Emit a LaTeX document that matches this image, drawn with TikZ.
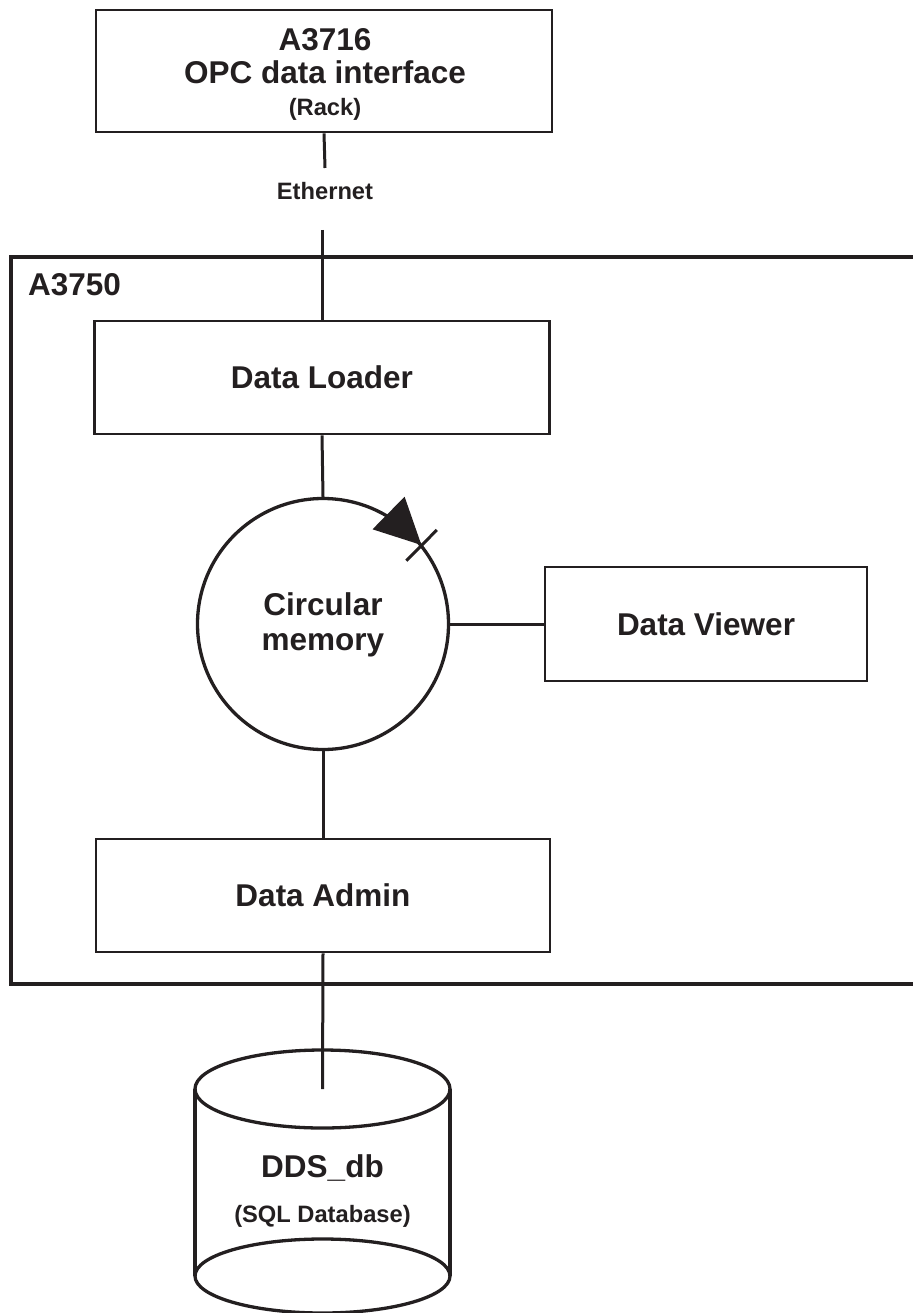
\documentclass[tikz,border=0pt]{standalone}
\usepackage{fontspec}
\setmainfont{Liberation Sans}
\usetikzlibrary{calc}
\definecolor{ink}{RGB}{35,31,32}
\newcommand\bigtxt{\fontsize{31.5}{35}\selectfont\bfseries}
\newcommand\smalltxt{\fontsize{23.7}{27}\selectfont\bfseries}
\begin{document}
\begin{tikzpicture}[x=1pt,y=-1pt,
  box/.style={draw=ink, line width=2.7pt, rectangle, inner sep=0pt, font=\bigtxt, text=ink},
  memstyle/.style={draw=ink, line width=3.3pt, circle, inner sep=0pt, minimum size=251pt},
  link/.style={draw=ink, line width=3pt},
  frame/.style={draw=ink, line width=4pt},
  cyl/.style={draw=ink, line width=3.3pt},
  bigl/.style={font=\bigtxt, text=ink, anchor=base, inner sep=0pt},
  smalll/.style={font=\smalltxt, text=ink, anchor=base, inner sep=0pt}]
\useasboundingbox (0,0) rectangle (912,1313);

% outer A3750 frame
\draw[frame] (930,257) -- (11,257) -- (11,984) -- (930,984);
\node[bigl, anchor=base west] (a3750) at (28,295) {A3750};

% top box
\node[box, minimum width=456pt, minimum height=122pt] (opc) at (324,71) {};
\node[bigl] (opc1) at (325,51) {A3716};
\node[bigl] (opc2) at (325,84) {OPC data interface};
\node[smalll] (opc3) at (325,116) {(Rack)};

% Ethernet
\coordinate (e1) at (325,168);
\coordinate (e2) at (322,230);
\node[smalll] (eth) at (325,200) {Ethernet};

% boxes
\node[box, minimum width=455pt, minimum height=113pt] (loader) at (322,377.5) {Data Loader};
\node[memstyle] (mem) at (323,624) {};
\node[bigl] (mem1) at (323,615) {Circular};
\node[bigl] (mem2) at (323,650) {memory};
\node[box, minimum width=322pt, minimum height=114pt] (viewer) at (706,624) {Data Viewer};
\node[box, minimum width=454pt, minimum height=113pt] (admin) at (323,895.5) {Data Admin};

% database cylinder
\coordinate (dbtop) at (322.5,1089);
\draw[cyl] (195,1089) -- (195,1276);
\draw[cyl] (450,1089) -- (450,1276);
\draw[cyl] (dbtop) ellipse [x radius=127.5pt, y radius=39pt];
\draw[cyl] (322.5,1276) ellipse [x radius=127.5pt, y radius=37pt];
\node[bigl] (db1) at (322.5,1177) {DDS\_db};
\node[smalll] (db2) at (322.5,1222) {(SQL Database)};

% connectors
\draw[link] (opc.south) -- (e1);
\draw[link] (e2) -- (loader.north);
\draw[link] (loader.south) -- (mem.north);
\draw[link] (mem.east) -- (viewer.west);
\draw[link] (mem.south) -- (admin.north);
\draw[link] (admin.south) -- (dbtop);

% arrow on circular memory
\fill[ink] ($(mem.center)+(98.4,-79)$) -- ($(mem.center)+(81.6,-127.3)$) -- ($(mem.center)+(49.5,-94.7)$) -- cycle;
\draw[link] ($(mem.center)+(113.8,-94)$) -- ($(mem.center)+(83.4,-63.3)$);
\end{tikzpicture}
\end{document}
